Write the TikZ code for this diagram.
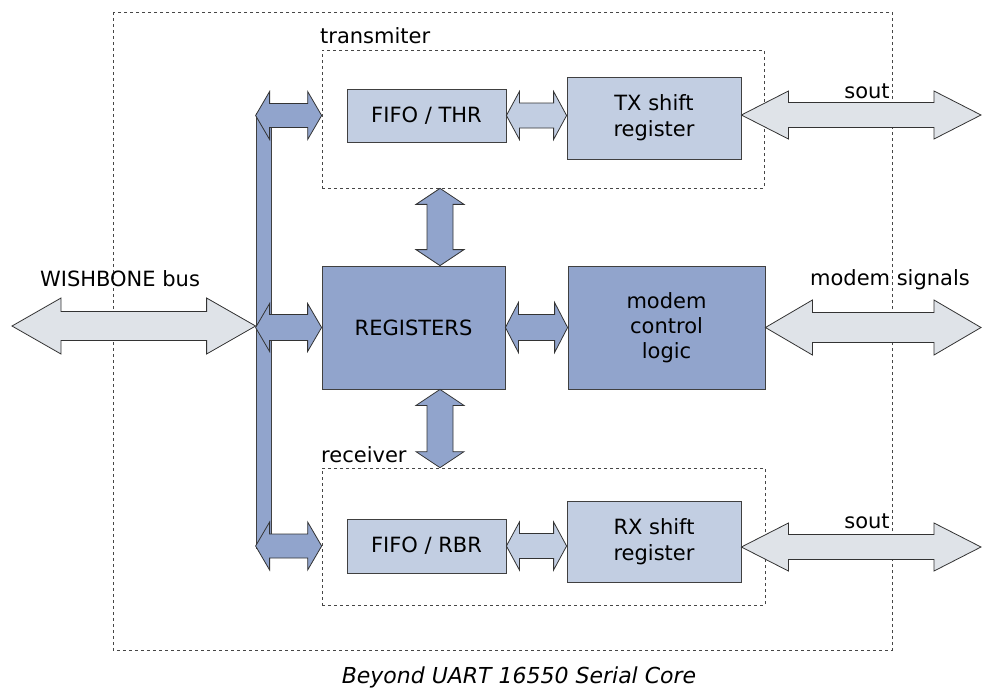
\documentclass[tikz,border=0pt]{standalone}
\usepackage{fontspec}
\setmainfont{DejaVu Sans}
\usetikzlibrary{calc, positioning}

\definecolor{boxlight}{RGB}{194,206,226}
\definecolor{boxdark}{RGB}{145,164,204}
\definecolor{busgrey}{RGB}{223,227,232}
\definecolor{framegrey}{RGB}{70,70,70}

% fat double arrows: style, head length, head half width, shaft half width, from, to
\newcommand{\fatarrowh}[6]{%
  \draw[#1] let \p1=(#5), \p2=(#6) in
    (\x1,\y1) -- (\x1+#2pt,\y1+#3pt) -- (\x1+#2pt,\y1+#4pt) -- (\x2-#2pt,\y1+#4pt)
    -- (\x2-#2pt,\y1+#3pt) -- (\x2,\y1) -- (\x2-#2pt,\y1-#3pt) -- (\x2-#2pt,\y1-#4pt)
    -- (\x1+#2pt,\y1-#4pt) -- (\x1+#2pt,\y1-#3pt) -- cycle;}
\newcommand{\fatarrowv}[6]{%
  \draw[#1] let \p1=(#5), \p2=(#6) in
    (\x1,\y1) -- (\x1+#3pt,\y1-#2pt) -- (\x1+#4pt,\y1-#2pt) -- (\x1+#4pt,\y2+#2pt)
    -- (\x1+#3pt,\y2+#2pt) -- (\x1,\y2) -- (\x1-#3pt,\y2+#2pt) -- (\x1-#4pt,\y2+#2pt)
    -- (\x1-#4pt,\y1-#2pt) -- (\x1-#3pt,\y1-#2pt) -- cycle;}

\begin{document}
\begin{tikzpicture}[x=1pt,y=-1pt,
	every node/.style={font=\fontsize{21}{26}\selectfont},
	block/.style={draw=black!75,line width=0.8pt,inner sep=0pt,align=center},
	light/.style={block,fill=boxlight},
	dark/.style={block,fill=boxdark},
	group/.style={draw=framegrey,line width=0.7pt,dash pattern=on 3.3pt off 2.7pt},
	arrlight/.style={draw=black!80,line width=0.8pt,fill=boxlight,line join=miter},
	arrdark/.style={draw=black!80,line width=0.8pt,fill=boxdark,line join=miter},
	arrgrey/.style={draw=black!80,line width=0.8pt,fill=busgrey,line join=miter}]
	\useasboundingbox (0,0) rectangle (987,697);

	\draw[group] (113,12) rectangle (892,650);
	\node[group,minimum width=442pt,minimum height=138pt] (tx) at (543,119) {};
	\node[group,minimum width=443pt,minimum height=137pt] (rx) at (543.5,536.5) {};
	\node[anchor=base west] (txlabel) at ([xshift=-5pt,yshift=6pt]tx.north west) {transmiter};
	\node[anchor=base west] (rxlabel) at ([xshift=-4pt,yshift=5pt]rx.north west) {receiver};

	\node[light,minimum width=159pt,minimum height=53pt] (fifot) at (426.5,115.5) {FIFO / THR};
	\node[light,minimum width=174pt,minimum height=82pt] (txsh) at (654,118) {TX shift\\register};
	\node[light,minimum width=159pt,minimum height=54pt] (fifor) at (426.5,546) {FIFO / RBR};
	\node[light,minimum width=174pt,minimum height=81pt] (rxsh) at (654,541.5) {RX shift\\register};
	\node[dark,minimum width=183pt,minimum height=123pt] (regs) at (413.5,327.5) {REGISTERS};
	\node[dark,minimum width=197pt,minimum height=123pt,font=\fontsize{21}{25}\selectfont] (modem) at (666.5,327.5) {modem\\control\\logic};
	\node[dark,minimum width=15pt,minimum height=435pt] (bus) at (263.5,330.5) {};

	\coordinate (wbend) at (12,326);
	\coordinate (souttx) at (981,115);
	\coordinate (soutrx) at (981,547);
	\coordinate (modemend) at (981,327.5);
	\coordinate (vx) at (440,0);

	\fatarrowh{arrgrey}{49}{28}{14.5}{wbend}{bus.west}
	\fatarrowh{arrgrey}{47}{24}{12.5}{txsh.east |- souttx}{souttx}
	\fatarrowh{arrgrey}{47}{27.5}{15}{modem.east}{modemend}
	\fatarrowh{arrgrey}{47}{24}{12.5}{rxsh.east |- soutrx}{soutrx}

	\fatarrowh{arrdark}{14}{24}{12}{bus.west |- fifot}{tx.west}
	\fatarrowh{arrdark}{14}{24}{13}{bus.west |- regs}{regs.west}
	\fatarrowh{arrdark}{14}{24}{12}{bus.west |- fifor}{rx.west}
	\fatarrowh{arrdark}{13}{25}{13}{regs.east}{modem.west}
	\fatarrowv{arrdark}{16}{24}{13}{vx |- tx.south}{vx |- regs.north}
	\fatarrowv{arrdark}{16}{24}{13}{vx |- regs.south}{vx |- rx.north}

	\fatarrowh{arrlight}{13}{24}{12.5}{fifot.east}{txsh.west}
	\fatarrowh{arrlight}{13}{24}{12.5}{fifor.east}{rxsh.west}

	\node[anchor=base] (wblabel) at (120,286) {WISHBONE bus};
	\node[anchor=base] (mslabel) at (890,285) {modem signals};
	\node[anchor=base] (souttxlabel) at (867,98) {sout};
	\node[anchor=base] (soutrxlabel) at (867,528) {sout};
	\node[anchor=base,font=\fontsize{22}{27}\selectfont\itshape] (caption) at (519,683) {Beyond UART 16550 Serial Core};
\end{tikzpicture}
\end{document}
